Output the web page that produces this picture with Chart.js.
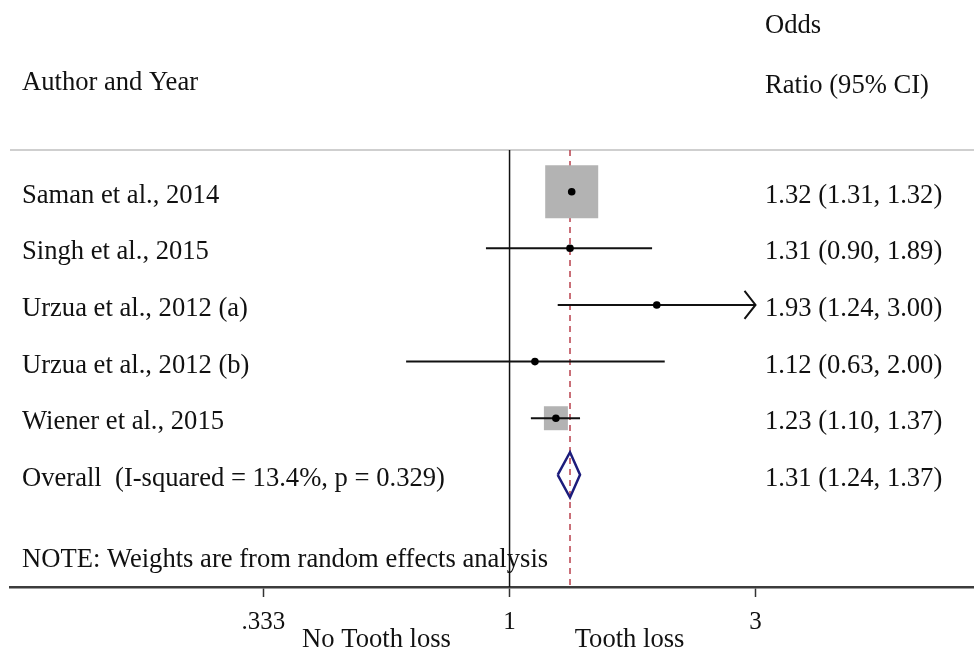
<!DOCTYPE html>
<html>
<head>
<meta charset="utf-8">
<script src="https://cdn.jsdelivr.net/npm/chart.js@4"></script>
<style>
  body { margin: 0; background: #fff; }
  #wrap { width: 974px; height: 651px; }
</style>
</head>
<body>
<div id="wrap"><canvas id="forest" width="974" height="651"></canvas></div>
<script>
// Dados do forest plot
const studies = ['Saman et al., 2014', 'Singh et al., 2015', 'Urzua et al., 2012 (a)', 'Urzua et al., 2012 (b)', 'Wiener et al., 2015'];
const oddsRatio = [1.32, 1.31, 1.93, 1.12, 1.23];
const ciLower = [1.31, 0.90, 1.24, 0.63, 1.10];
const ciUpper = [1.32, 1.89, 3.00, 2.00, 1.37];
const weights = [80.6, 1.2, 1.1, 0.6, 16.5]; // % (estimado pelo tamanho das caixas)
const overallLabel = 'Overall  (I-squared = 13.4%, p = 0.329)';
const overallOR = 1.31;
const overallLower = 1.24;
const overallUpper = 1.37;
const tickValues = [0.333, 1, 3];
const tickLabels = ['.333', '1', '3'];
const noteText = 'NOTE: Weights are from random effects analysis';

const FONT = '"Liberation Serif", "Times New Roman", serif';
const Y_MIN = 0.264, Y_MAX = 7.98;
const overallRow = studies.length + 1;
const fmt = v => v.toFixed(2);

// Tamanho das caixas proporcional ao peso (área)
const maxW = Math.max(...weights);
const boxRadius = weights.map(w => (53 * Math.sqrt(w / maxW)) / Math.SQRT2);

const datasets = [];

// Pontos (estimativas)
datasets.push({
  data: oddsRatio.map((v, i) => ({ x: v, y: i + 1 })),
  pointStyle: 'circle', pointRadius: 3.8, backgroundColor: '#000', borderWidth: 0
});

// Intervalos de confiança
studies.forEach((s, i) => {
  datasets.push({
    data: [{ x: ciLower[i], y: i + 1 }, { x: ciUpper[i], y: i + 1 }],
    showLine: true, borderColor: '#111', borderWidth: 2, pointRadius: 0
  });
});

// Diamante do efeito global
const dh = 0.4;
datasets.push({
  data: [
    { x: overallLower, y: overallRow }, { x: overallOR, y: overallRow - dh },
    { x: overallUpper, y: overallRow }, { x: overallOR, y: overallRow + dh },
    { x: overallLower, y: overallRow }
  ],
  showLine: true, borderColor: '#1c1c7c', borderWidth: 2.5, pointRadius: 0, tension: 0
});

// Caixas dos pesos
datasets.push({
  data: oddsRatio.map((v, i) => ({ x: v, y: i + 1 })),
  pointStyle: 'rect', pointRadius: boxRadius, backgroundColor: '#b3b3b3', borderWidth: 0
});

// Linha tracejada no OR global
datasets.push({
  data: [{ x: overallOR, y: Y_MIN }, { x: overallOR, y: Y_MAX }],
  showLine: true, borderColor: '#b8404c', borderWidth: 1.5, borderDash: [6, 5], pointRadius: 0
});

// Linha de nulidade (OR = 1)
datasets.push({
  data: [{ x: 1, y: Y_MIN }, { x: 1, y: Y_MAX }],
  showLine: true, borderColor: '#111', borderWidth: 1.5, pointRadius: 0
});

// Textos e detalhes
const textPlugin = {
  id: 'forestText',
  beforeDatasetsDraw(chart) {
    const { ctx, chartArea } = chart;
    ctx.save();
    ctx.strokeStyle = '#cfcfcf';
    ctx.lineWidth = 2;
    ctx.beginPath();
    ctx.moveTo(chartArea.left, chartArea.top);
    ctx.lineTo(chartArea.right, chartArea.top);
    ctx.stroke();
    ctx.restore();
  },
  afterDraw(chart) {
    const { ctx } = chart;
    const xs = chart.scales.x, ys = chart.scales.y;
    ctx.save();
    ctx.fillStyle = '#111';
    ctx.font = '26.6px ' + FONT;
    ctx.textBaseline = 'alphabetic';
    ctx.textAlign = 'left';

    // Cabeçalho
    ctx.fillText('Odds', 765, 33);
    ctx.fillText('Author and Year', 22, 90);
    ctx.fillText('Ratio (95% CI)', 765, 93);

    // Linhas dos estudos
    studies.forEach((s, i) => {
      const y = ys.getPixelForValue(i + 1) + 11;
      ctx.fillText(s, 22, y);
      ctx.fillText(`${fmt(oddsRatio[i])} (${fmt(ciLower[i])}, ${fmt(ciUpper[i])})`, 765, y);
    });
    const yo = ys.getPixelForValue(overallRow) + 11;
    ctx.fillText(overallLabel, 22, yo);
    ctx.fillText(`${fmt(overallOR)} (${fmt(overallLower)}, ${fmt(overallUpper)})`, 765, yo);

    ctx.fillText(noteText, 22, ys.getPixelForValue(7.43) + 11);

    // Seta do IC cortado (Urzua a)
    ctx.strokeStyle = '#111';
    ctx.lineWidth = 2;
    const ax = xs.getPixelForValue(ciUpper[2]);
    const ay = ys.getPixelForValue(3);
    ctx.beginPath();
    ctx.moveTo(ax - 11, ay - 14);
    ctx.lineTo(ax, ay);
    ctx.lineTo(ax - 11, ay + 14);
    ctx.stroke();

    // Rótulos de direção
    const x1 = xs.getPixelForValue(1);
    ctx.textAlign = 'center';
    ctx.fillText('No Tooth loss', x1 - 133, 647);
    ctx.fillText('Tooth loss', x1 + 120, 647);
    ctx.restore();
  }
};

new Chart(document.getElementById('forest').getContext('2d'), {
  type: 'scatter',
  data: { datasets: datasets },
  options: {
    responsive: false,
    animation: false,
    layout: { autoPadding: false, padding: { left: 10, right: 0, top: 150, bottom: 14 } },
    plugins: { legend: { display: false }, tooltip: { enabled: false } },
    scales: {
      x: {
        type: 'logarithmic',
        min: 0.1074,
        max: 7.96,
        bounds: 'data',
        afterBuildTicks: scale => { scale.ticks = tickValues.map(v => ({ value: v })); },
        afterFit: scale => {
          scale.height = 50;
          scale.paddingLeft = 0;
          scale.paddingRight = 0;
        },
        border: { display: true, color: '#3c3c3c', width: 2.5 },
        grid: { drawOnChartArea: false, drawTicks: true, tickLength: 10, tickColor: '#333', tickWidth: 1.5 },
        ticks: {
          autoSkip: false, maxRotation: 0, padding: 10, color: '#111',
          font: { family: FONT, size: 25 },
          callback: (value, index) => tickLabels[index]
        }
      },
      y: {
        type: 'linear',
        display: false,
        reverse: true,
        min: Y_MIN,
        max: Y_MAX
      }
    }
  },
  plugins: [textPlugin]
});
</script>
</body>
</html>
